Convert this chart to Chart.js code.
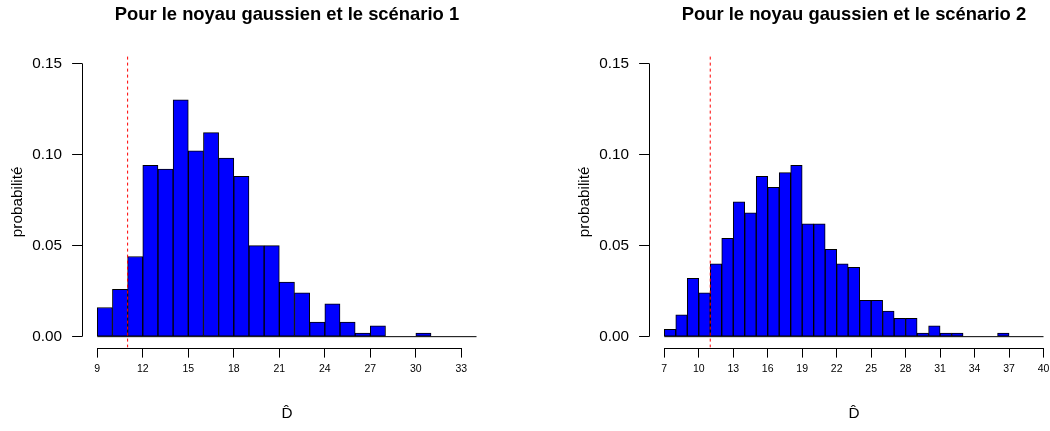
<!DOCTYPE html>
<html><head><meta charset="utf-8">
<script src="https://cdn.jsdelivr.net/npm/chart.js@4"></script>
<style>
html,body{margin:0;padding:0;width:1050px;height:431px;overflow:hidden;background:#fff;}
canvas{position:absolute;top:0;}
#c1{left:0}
#c2{left:567px}
</style></head><body>
<canvas id="c1" width="566" height="431"></canvas>
<canvas id="c2" width="566" height="431"></canvas>
<script>
// ---------- data ----------
const titles = ["Pour le noyau gaussien et le scénario 1", "Pour le noyau gaussien et le scénario 2"];
const yLabel = "probabilité";
const xLabel = "D\u0302";

// left edges of the unit-width bins
const binStart1 = [9,10,11,12,13,14,15,16,17,18,19,20,21,22,23,24,25,26,27,28,29,30,31,32,33];
const prob1     = [0.016,0.026,0.044,0.094,0.092,0.130,0.102,0.112,0.098,0.088,0.050,0.050,0.030,0.024,0.008,0.018,0.008,0.002,0.006,0,0,0.002,0,0,0];
const binStart2 = [7,8,9,10,11,12,13,14,15,16,17,18,19,20,21,22,23,24,25,26,27,28,29,30,31,32,33,34,35,36,37,38,39];
const prob2     = [0.004,0.012,0.032,0.024,0.040,0.054,0.074,0.068,0.088,0.082,0.090,0.094,0.062,0.062,0.048,0.040,0.038,0.020,0.020,0.014,0.010,0.010,0.002,0.006,0.002,0.002,0,0,0,0.002,0,0,0];
const binWidth = 1;

const xTicks1 = [9,12,15,18,21,24,27,30,33];
const xTicks2 = [7,10,13,16,19,22,25,28,31,34,37,40];
const yTicks  = [0, 0.05, 0.10, 0.15];
const refLine = [11, 11];   // dashed red reference per panel

// ---------- drawing ----------
const FONT = "'Liberation Sans', Arial, Helvetica, sans-serif";
Chart.defaults.font.family = FONT;
Chart.defaults.color = '#000';

const rPlot = {
  id: 'rPlot',
  afterDraw(chart, args, opts) {
    const {ctx, chartArea: a, scales: {x, y}} = chart;
    ctx.save();
    ctx.strokeStyle = '#000';
    ctx.lineWidth = 1;
    const lx = Math.round(a.left) + 0.5;
    ctx.beginPath();
    ctx.moveTo(lx, y.getPixelForValue(yTicks[0]));
    ctx.lineTo(lx, y.getPixelForValue(yTicks[yTicks.length - 1]));
    ctx.stroke();
    const by = Math.round(a.bottom) + 0.5;
    const xt = opts.xTicks;
    ctx.beginPath();
    ctx.moveTo(x.getPixelForValue(xt[0]), by);
    ctx.lineTo(x.getPixelForValue(xt[xt.length - 1]), by);
    ctx.stroke();
    ctx.fillStyle = '#000';
    ctx.font = 'bold 18.4px ' + FONT;
    ctx.textAlign = 'center';
    ctx.textBaseline = 'alphabetic';
    ctx.fillText(opts.title, (a.left + a.right) / 2, 20);
    ctx.restore();
  }
};

function makeChart(id, starts, probs, xTicks, title, ref) {
  const first = starts[0], last = starts[starts.length - 1] + binWidth;
  const ext = (last - first) * 0.04;
  const yMin = -0.006, yMax = 0.154;
  return new Chart(document.getElementById(id), {
    type: 'bar',
    data: {
      datasets: [
        {
          type: 'line', order: 0,
          data: [{x: ref, y: yMin}, {x: ref, y: yMax}],
          borderColor: '#ff0000', borderWidth: 1, borderDash: [3, 3],
          pointRadius: 0, fill: false
        },
        {
          type: 'line', order: 2,
          data: [{x: first, y: 0}, {x: last, y: 0}],
          borderColor: '#000', borderWidth: 1, pointRadius: 0, fill: false
        },
        {
          type: 'bar', order: 1,
          data: starts.map((s, i) => ({x: s + binWidth / 2, y: probs[i]})),
          backgroundColor: '#0000ff', borderColor: '#000', borderWidth: 1,
          borderSkipped: false, barPercentage: 1, categoryPercentage: 1
        }
      ]
    },
    options: {
      responsive: false, animation: false,
      events: [],
      layout: {padding: {top: 56.1, right: 74.3, left: 0, bottom: 0}},
      plugins: {
        legend: {display: false}, tooltip: {enabled: false},
        rPlot: {title: title, xTicks: xTicks}
      },
      scales: {
        x: {
          type: 'linear', offset: false,
          min: first - ext, max: last + ext,
          afterBuildTicks: s => { s.ticks = xTicks.map(v => ({value: v})); },
          afterFit: s => { s.height = 83.4; },
          border: {display: false},
          grid: {display: true, drawOnChartArea: false, drawTicks: true, tickLength: 10, color: '#000', offset: false},
          ticks: {autoSkip: false, maxRotation: 0, minRotation: 0, padding: 5,
                  font: {size: 10.5}, color: '#000', callback: v => String(v)},
          title: {display: true, text: xLabel, font: {size: 15.3}, color: '#000', padding: {top: 0, bottom: 8}}
        },
        y: {
          min: yMin, max: yMax,
          afterBuildTicks: s => { s.ticks = yTicks.map(v => ({value: v})); },
          afterFit: s => { s.width = 82.1; },
          border: {display: false},
          grid: {display: true, drawOnChartArea: false, drawTicks: true, tickLength: 10, color: '#000'},
          ticks: {padding: 10, font: {size: 15.3}, color: '#000', callback: v => v.toFixed(2)},
          title: {display: true, text: yLabel, font: {size: 15.3}, color: '#000', padding: {top: 9, bottom: 0}}
        }
      }
    },
    plugins: [rPlot]
  });
}

makeChart('c1', binStart1, prob1, xTicks1, titles[0], refLine[0]);
makeChart('c2', binStart2, prob2, xTicks2, titles[1], refLine[1]);
</script>
</body></html>
